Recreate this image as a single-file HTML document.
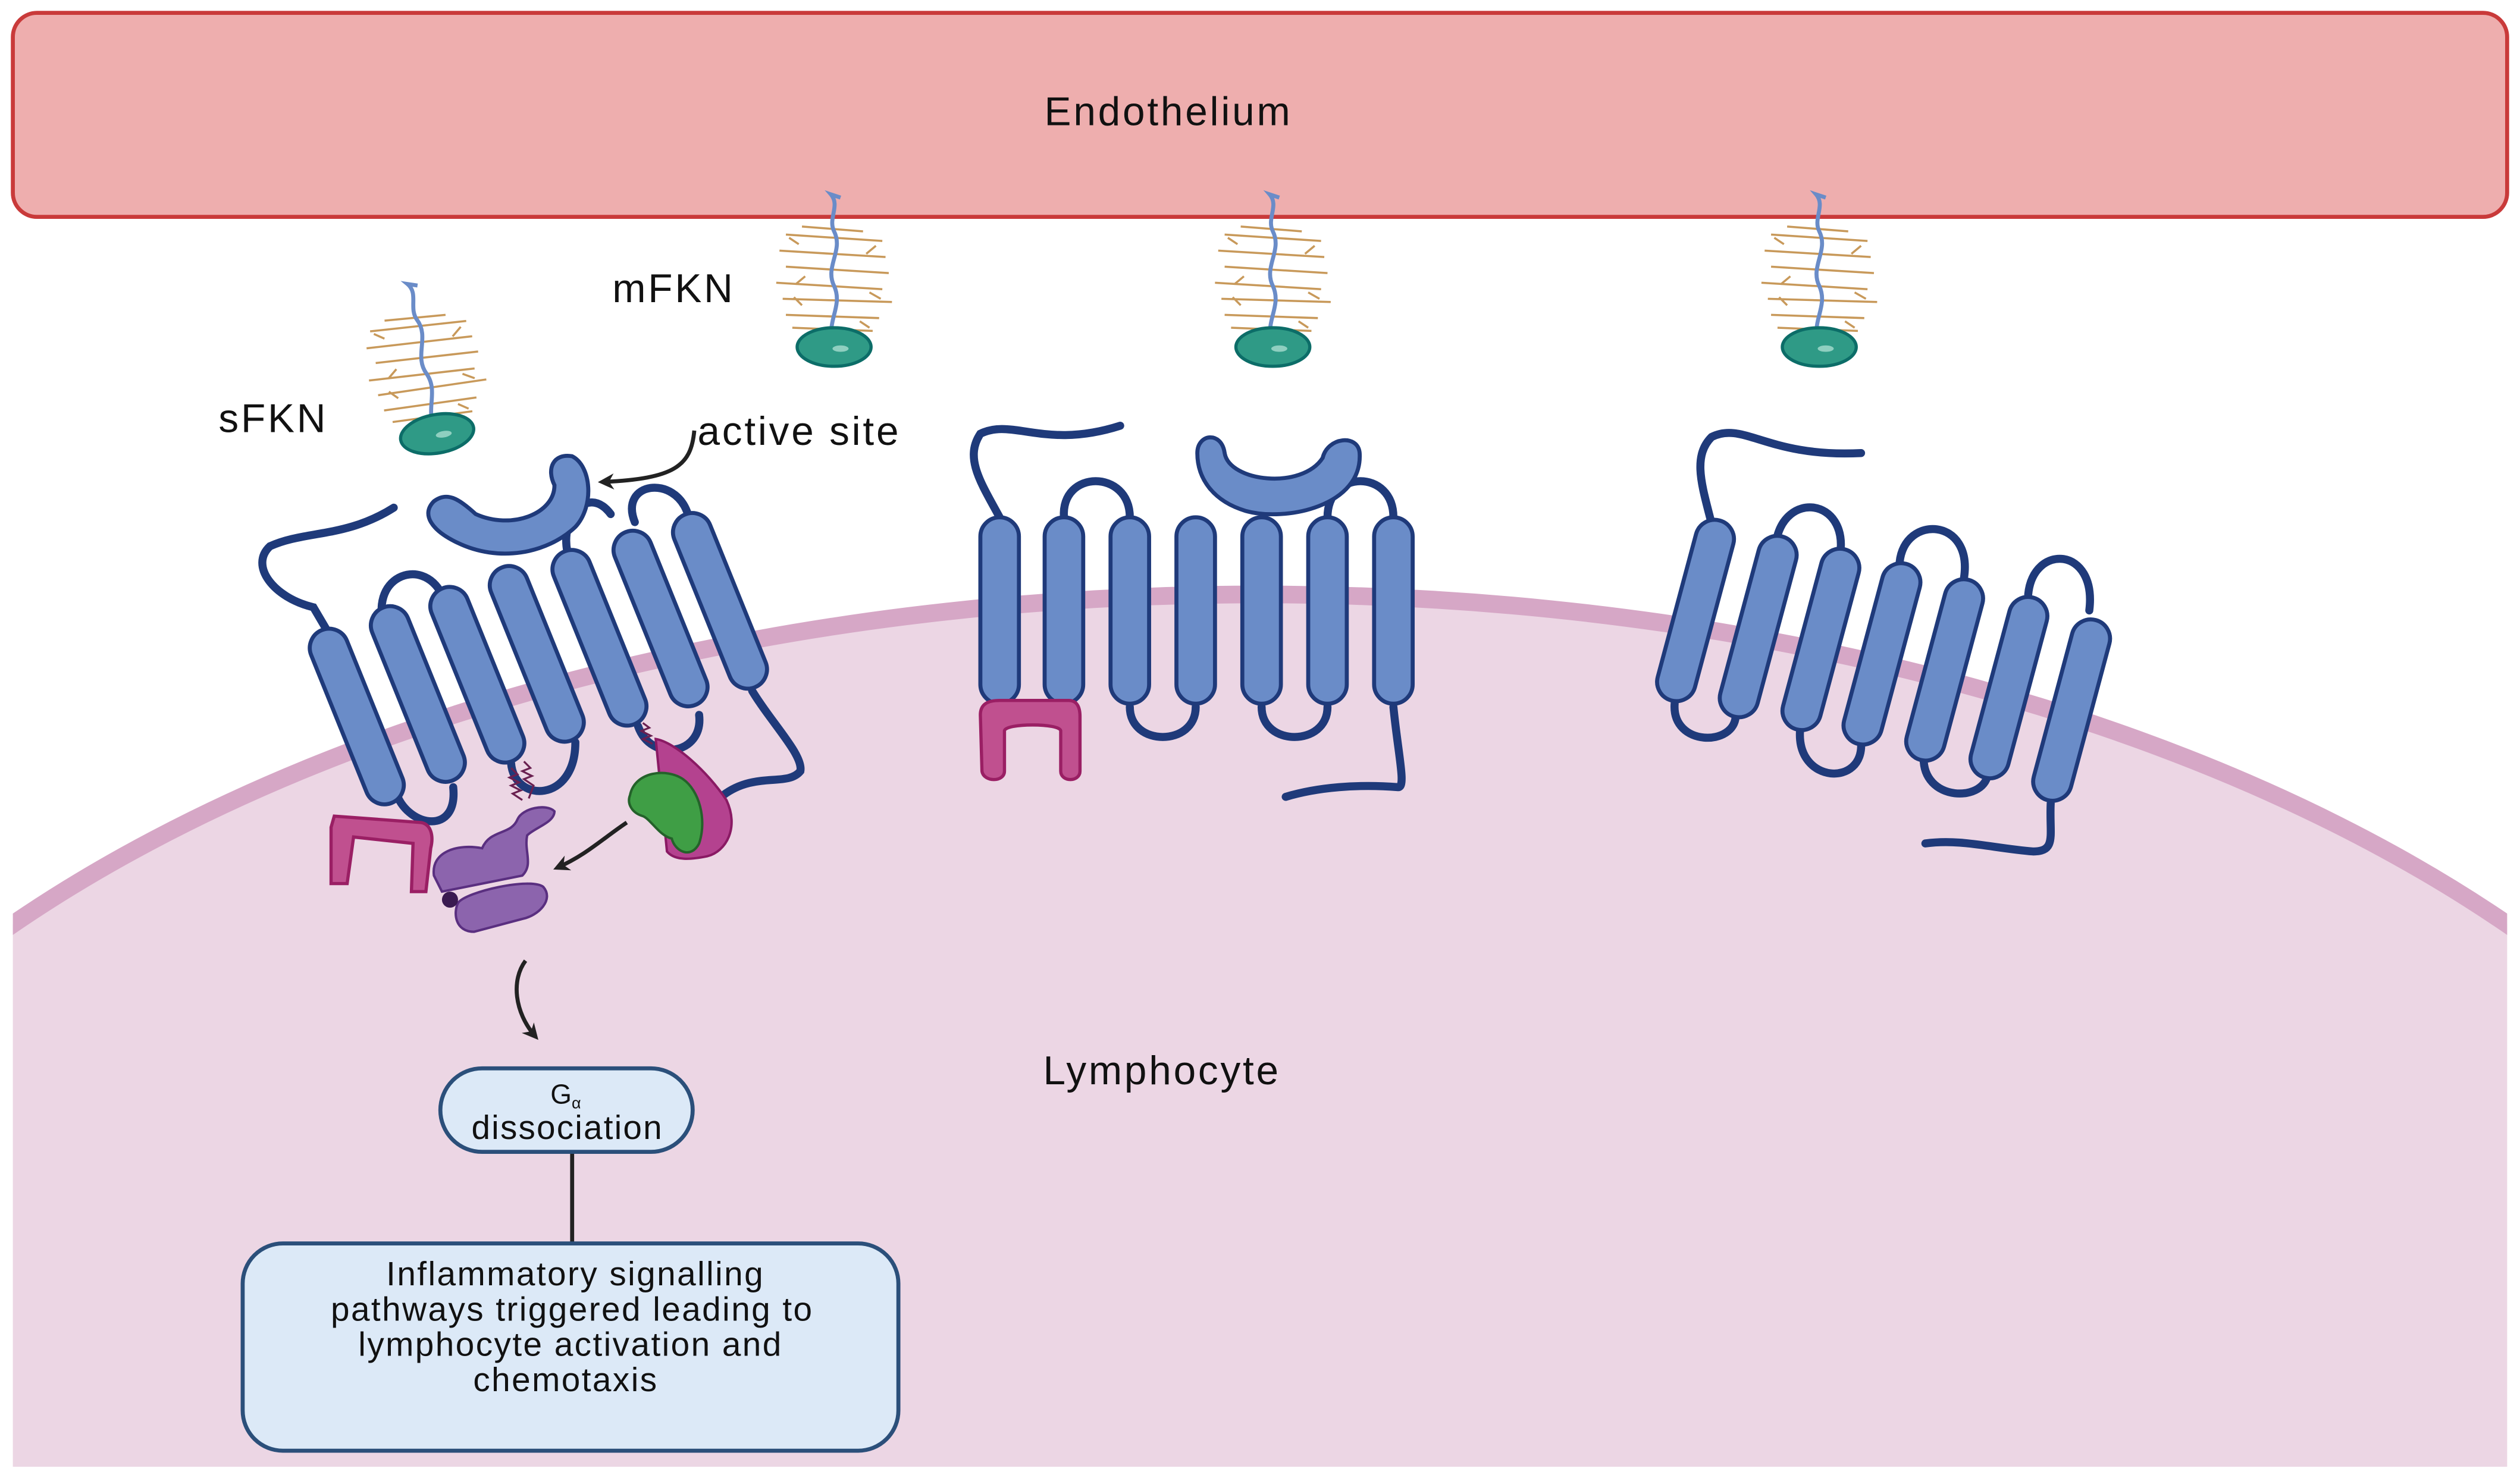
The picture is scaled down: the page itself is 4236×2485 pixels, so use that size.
<!DOCTYPE html>
<html><head><style>html,body{margin:0;padding:0;background:#fff;width:4236px;height:2485px;overflow:hidden}svg{display:block}</style></head>
<body>
<svg width="4236" height="2485" viewBox="0 0 1568 920" preserveAspectRatio="none" xmlns="http://www.w3.org/2000/svg" font-family="Liberation Sans, sans-serif">
<defs>
<clipPath id="c"><rect x="8" y="0" width="1552" height="913"/></clipPath>
<marker id="ah" markerWidth="10" markerHeight="10" refX="7" refY="5" orient="auto" markerUnits="userSpaceOnUse"><path d="M0,0 L10,5 L0,10 L3,5Z" fill="#222"/></marker>
<g id="hx"><rect x="-12" y="-58" width="24" height="116" rx="12" fill="#6a8cc8" stroke="#1f3a7a" stroke-width="2.5"/></g>
<g id="fkn">
<g stroke="#c8995a" stroke-width="1.3" fill="none">
<path d="M-30,-70 L30,-66 M-34,-60 L32,-56 M-30,-50 L34,-46 M-36,-40 L30,-36 M-32,-30 L36,-28 M-30,-20 L28,-18 M-26,-12 L24,-10 M-20,-75 L18,-72 M-22,-64 l-6,-4 M20,-58 l6,-5 M-18,-44 l-6,5 M22,-34 l7,4 M-20,-26 l-5,-5 M16,-16 l6,4"/>
</g>
<path d="M0,-2 C-6,-15 6,-25 0,-38 C-6,-50 6,-60 0,-72 C-4,-80 4,-88 -2,-95 l6,2" stroke="#6a8cc8" stroke-width="2.5" fill="none"/>
<ellipse cx="0" cy="0" rx="23" ry="12" fill="#2f9a86" stroke="#0c6d68" stroke-width="2"/>
<ellipse cx="4" cy="1" rx="5" ry="2" fill="#8fcfc0"/>
</g>
</defs>
<rect width="1568" height="920" fill="#fff"/>
<g clip-path="url(#c)">
<ellipse cx="784" cy="926" rx="1000" ry="556" fill="#ecd6e4" stroke="#d6a7c6" stroke-width="11"/>
</g>
<rect x="8" y="8" width="1552" height="127" rx="15" fill="#eeaeae" stroke="#c93a3a" stroke-width="2.5"/>
<g font-size="25" fill="#111" letter-spacing="1.4">
<text x="727" y="78" text-anchor="middle">Endothelium</text>
<text x="723" y="675" text-anchor="middle">Lymphocyte</text>
<text x="136" y="269">sFKN</text>
<text x="381" y="188">mFKN</text>
<text x="434" y="277">active site</text>
</g>

<use href="#fkn" transform="translate(272,270) rotate(-10)"/>
<use href="#fkn" transform="translate(519,216)"/>
<use href="#fkn" transform="translate(792,216)"/>
<use href="#fkn" transform="translate(1132,216)"/>

<!-- left receptor -->
<g fill="none" stroke="#1f3a7a" stroke-width="5" stroke-linecap="round">
<path d="M245,316 C215,335 190,330 168,340 C155,352 170,372 195,378 L205,395"/>
<path d="M240,392 C228,360 262,345 275,370"/>
<path d="M355,350 C345,325 365,300 380,320"/>
<path d="M395,325 C385,300 420,295 428,320"/>
<path d="M247,495 C255,515 285,520 282,490"/>
<path d="M318,475 C320,500 358,500 358,462"/>
<path d="M397,452 C405,475 438,470 435,445"/>
<path d="M468,430 C480,450 500,470 498,480 C490,490 470,480 450,495"/>
</g>
<use href="#hx" transform="translate(222,446) rotate(-22)"/>
<use href="#hx" transform="translate(260,432) rotate(-22)"/>
<use href="#hx" transform="translate(297,420) rotate(-22)"/>
<use href="#hx" transform="translate(334,407) rotate(-22)"/>
<use href="#hx" transform="translate(373,397) rotate(-22)"/>
<use href="#hx" transform="translate(411,385) rotate(-22)"/>
<use href="#hx" transform="translate(448,374) rotate(-22)"/>
<path d="M270,312 C262,320 268,330 285,338 C310,350 340,345 358,328 C370,315 368,290 356,284 C344,282 340,292 345,302 C345,320 318,330 296,320 C285,310 278,306 270,312Z" fill="#6a8cc8" stroke="#1f3a7a" stroke-width="2.5"/>
<path d="M208,508 L262,512 C268,513 270,520 268,528 L265,555 L256,555 L257,525 L220,521 L216,550 L206,550 L206,515Z" fill="#c0508f" stroke="#9a1f64" stroke-width="2"/>
<path d="M270,545 C268,530 285,525 300,528 C305,516 318,520 322,510 C325,503 340,500 345,505 C345,512 333,515 328,520 C326,530 332,538 325,545 C310,548 290,552 275,555Z" fill="#8c64ad" stroke="#5a2f80" stroke-width="1.5"/>
<path d="M285,562 C290,555 330,546 338,552 C345,560 335,570 325,572 L295,580 C283,580 282,568 285,562Z" fill="#8c64ad" stroke="#5a2f80" stroke-width="1.5"/>
<circle cx="280" cy="560" r="5" fill="#3a1a50"/>
<path d="M318,478 l4,4 l-5,2 l6,3 l-5,2 l6,3 l-5,2 l6,4 M326,474 l4,4 l-5,2 l6,3 l-5,2 l6,4 l-3,8 M400,450 l4,3 l-5,2 l6,3 l-5,2 l6,3" stroke="#6a2050" stroke-width="1.2" fill="none"/>
<path d="M408,460 C420,462 440,480 452,498 C460,515 452,530 440,533 C430,535 420,536 415,530Z" fill="#b4428f" stroke="#8a1a64" stroke-width="1.5"/>
<path d="M392,495 C395,480 415,478 425,485 C435,492 440,510 435,525 C430,535 420,530 418,522 C410,520 405,510 400,508 C393,506 390,500 392,495Z" fill="#3f9e45" stroke="#24622a" stroke-width="1.5"/>
<path d="M390,512 C375,522 365,532 347,540" stroke="#222" stroke-width="2.5" fill="none" marker-end="url(#ah)"/>
<path d="M432,268 C430,290 420,298 375,300" stroke="#222" stroke-width="2.5" fill="none" marker-end="url(#ah)"/>
<path d="M327,598 C318,610 320,630 333,645" stroke="#222" stroke-width="2.5" fill="none" marker-end="url(#ah)"/>

<!-- middle receptor -->
<g fill="none" stroke="#1f3a7a" stroke-width="5" stroke-linecap="round">
<path d="M622,322 C610,300 600,285 610,270 C630,260 650,280 697,265"/>
<path d="M662,322 C660,292 703,292 703,322"/>
<path d="M826,322 C826,292 867,292 867,322"/>
<path d="M703,440 C703,465 744,465 744,440"/>
<path d="M785,440 C785,465 826,465 826,440"/>
<path d="M867,440 C870,470 875,490 870,490 C845,488 820,490 800,496"/>
</g>
<use href="#hx" transform="translate(622,380)"/>
<use href="#hx" transform="translate(662,380)"/>
<use href="#hx" transform="translate(703,380)"/>
<use href="#hx" transform="translate(744,380)"/>
<use href="#hx" transform="translate(785,380)"/>
<use href="#hx" transform="translate(826,380)"/>
<use href="#hx" transform="translate(867,380)"/>
<path d="M745,282 C745,270 760,268 762,282 C765,300 810,305 823,285 C826,272 845,270 846,282 C848,315 800,325 775,318 C755,312 745,298 745,282Z" fill="#6a8cc8" stroke="#1f3a7a" stroke-width="2.5"/>
<path d="M610,445 C610,438 615,436 622,436 L665,436 C670,436 672,440 672,446 L672,480 C672,487 660,487 660,480 L660,455 C660,450 625,450 625,455 L625,480 C625,487 612,487 611,480Z" fill="#c0508f" stroke="#9a1f64" stroke-width="2"/>

<!-- right receptor -->
<g fill="none" stroke="#1f3a7a" stroke-width="5" stroke-linecap="round">
<path d="M1066,330 C1060,305 1052,285 1065,272 C1085,262 1100,285 1158,282"/>
<path d="M1105,338 C1110,305 1150,310 1145,345"/>
<path d="M1182,350 C1185,320 1228,322 1222,360"/>
<path d="M1262,370 C1265,338 1305,340 1300,380"/>
<path d="M1042,438 C1040,465 1080,465 1080,445"/>
<path d="M1120,455 C1118,488 1160,490 1158,462"/>
<path d="M1197,470 C1195,500 1237,500 1237,480"/>
<path d="M1276,500 C1275,520 1280,530 1265,530 C1240,528 1220,522 1198,525"/>
</g>
<use href="#hx" transform="translate(1055,380) rotate(15)"/>
<use href="#hx" transform="translate(1094,390) rotate(15)"/>
<use href="#hx" transform="translate(1133,398) rotate(15)"/>
<use href="#hx" transform="translate(1171,407) rotate(15)"/>
<use href="#hx" transform="translate(1210,417) rotate(15)"/>
<use href="#hx" transform="translate(1250,428) rotate(15)"/>
<use href="#hx" transform="translate(1289,442) rotate(15)"/>

<!-- boxes -->
<line x1="356" y1="717" x2="356" y2="773" stroke="#222" stroke-width="2.5"/>
<rect x="274" y="665" width="157" height="52" rx="26" fill="#dce9f7" stroke="#2b4f7a" stroke-width="2.5"/>
<text x="352" y="687" font-size="17" text-anchor="middle" fill="#111">G<tspan font-size="10" dy="3">α</tspan></text>
<text x="353" y="709" font-size="21" letter-spacing="0.8" text-anchor="middle" fill="#111">dissociation</text>
<rect x="151" y="774" width="408" height="129" rx="25" fill="#dce9f7" stroke="#2b4f7a" stroke-width="2.5"/>
<g font-size="21" letter-spacing="0.9" text-anchor="middle" fill="#111">
<text x="358" y="800">Inflammatory signalling</text>
<text x="356" y="822">pathways triggered leading to</text>
<text x="355" y="844">lymphocyte activation and</text>
<text x="352" y="866">chemotaxis</text>
</g>
</svg>
</body></html>
